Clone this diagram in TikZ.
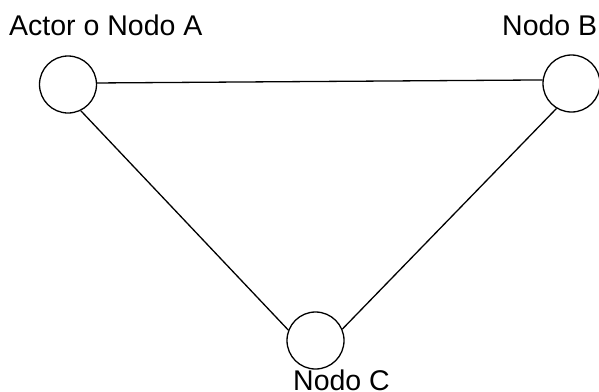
\documentclass[tikz,border=0pt]{standalone}
\usepackage{fontspec}
\setmainfont{Liberation Sans}
\begin{document}
\begin{tikzpicture}[x=1pt,y=-1pt,
  actor/.style={circle,draw=black,line width=1.3pt,minimum size=57pt,inner sep=0pt,fill=white},
  lbl/.style={anchor=base west,inner sep=0pt,font=\fontsize{28.5}{34}\selectfont},
  edge/.style={draw=black,line width=1.3pt}]
\useasboundingbox (0,0) rectangle (599,391);
\fill[white] (0,0) rectangle (599,391);
\node[actor] (A) at (68,84.5) {};
\node[actor] (B) at (571.5,83.5) {};
\node[actor] (C) at (315.5,340.5) {};
\draw[edge] (A.3) -- (B.173);
\draw[edge] (A.-64) -- (C.159);
\draw[edge] (B.-121) -- (C.23);
\node[lbl] (la) at (9,35) {Actor o Nodo A};
\node[lbl] (lb) at (502,35) {Nodo B};
\node[lbl] (lc) at (293,390.5) {Nodo C};
\end{tikzpicture}
\end{document}
